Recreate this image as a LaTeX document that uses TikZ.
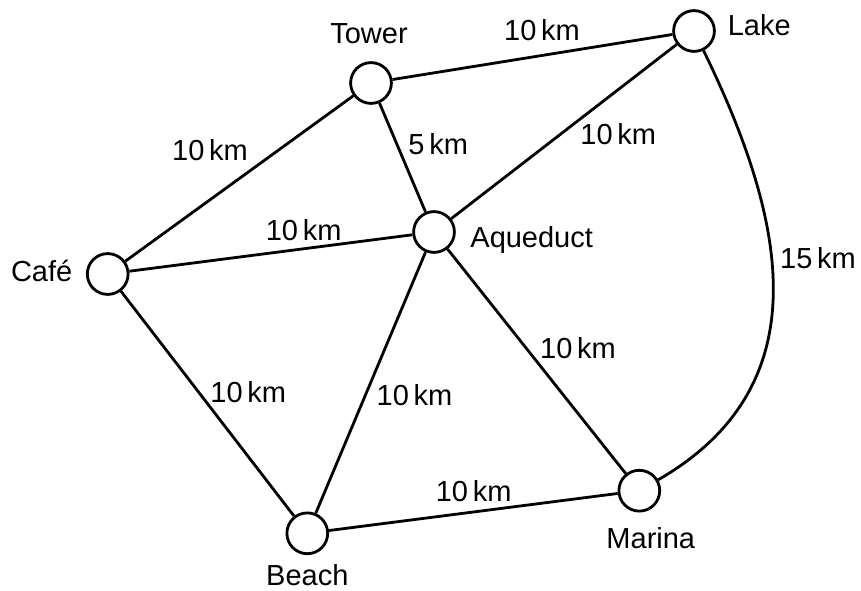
\documentclass[tikz,border=0pt]{standalone}
\usepackage{fontspec}
\setmainfont{Liberation Sans}
\usetikzlibrary{positioning}

\begin{document}
\begin{tikzpicture}[x=0.5pt,y=0.5pt,line width=1.4pt,font=\fontsize{14.5}{17}\selectfont,
    place/.style={draw,circle,minimum size=20.4pt,inner sep=0pt},
    placename/.style={inner sep=2pt},
    dist/.style={inner sep=0pt}]
    \useasboundingbox (0,0) rectangle (861,590);
    \node(tower) [place] at (371,507) {};
    \node(lake) [place] at (694,559) {};
    \node(cafe) [place] at (107.7,316) {};
    \node(aqueduct) [place] at (434,358) {};
    \node(beach) [place] at (307.3,56.7) {};
    \node(marina) [place] at (639.3,99.3) {};

    \node[above = 5.8pt of tower, xshift=-1pt](towertext) [placename] {Tower};
    \node[right = 3.3pt of lake, yshift=2.75pt](laketext) [placename] {Lake};
    \node[left = 4.1pt of cafe, yshift=1.5pt](cafetext) [placename] {Café};
    \node[right = 4.6pt of aqueduct, yshift=-3.9pt](aqueducttext) [placename] {Aqueduct};
    \node[below = 1.8pt of beach](beachtext) [placename] {Beach};
    \node[below = 4.6pt of marina, xshift=5.75pt](marinatext) [placename] {Marina};

    \draw (tower) -- (lake);
    \draw (cafe) -- (tower);
    \draw (tower) -- (aqueduct);
    \draw (aqueduct) -- (lake);
    \draw (cafe) -- (aqueduct);
    \draw (cafe) -- (beach);
    \draw (beach) -- (aqueduct);
    \draw (aqueduct) -- (marina);
    \draw (beach) -- (marina);
    \draw (lake) to[out=-64,in=30,looseness=1.12] (marina);

    \node(dtl) [dist] at (542,560) {10\,km};
    \node(dct) [dist] at (210,440.3) {10\,km};
    \node(dta) [dist] at (438.3,446.3) {5\,km};
    \node(dal) [dist] at (618.3,455.5) {10\,km};
    \node(dca) [dist] at (303.7,360.2) {10\,km};
    \node(dcb) [dist] at (248.3,198.3) {10\,km};
    \node(dba) [dist] at (414.5,194.7) {10\,km};
    \node(dam) [dist] at (578,241.7) {10\,km};
    \node(dlm) [dist] at (818,331.5) {15\,km};
    \node(dbm) [dist] at (473.7,98.8) {10\,km};
\end{tikzpicture}
\end{document}
